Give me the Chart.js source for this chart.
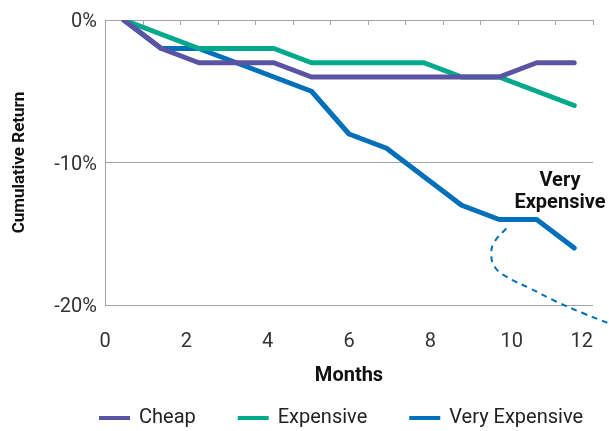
<!DOCTYPE html>
<html>
<head>
<meta charset="utf-8">
<title>Cumulative Return by Valuation</title>
<script src="https://cdn.jsdelivr.net/npm/chart.js@4/dist/chart.umd.min.js"></script>
<style>
  html, body { margin: 0; padding: 0; background: #ffffff; }
  #wrap { width: 609px; height: 431px; }
</style>
</head>
<body>
<div id="wrap"><canvas id="chart" width="609" height="431"></canvas></div>
<script>
// ---- data -------------------------------------------------------------
const months        = [0, 1, 2, 3, 4, 5, 6, 7, 8, 9, 10, 11, 12];
const cheap         = [0, -2, -3, -3, -3, -4, -4, -4, -4, -4, -4, -3, -3];
const expensive     = [0, -1, -2, -2, -2, -3, -3, -3, -3, -4, -4, -5, -6];
const veryExpensive = [0, -2, -2, -3, -4, -5, -8, -9, -11, -13, -14, -14, -16];
const seriesNames   = ['Cheap', 'Expensive', 'Very Expensive'];
const monthTicks    = [0, 2, 4, 6, 8, 10, 12];
const returnTicks   = [0, -10, -20];
const calloutLines  = ['Very', 'Expensive'];
// dashed arc that wraps under the end of the Very Expensive line
const calloutArc = [
  { x: 10.19, y: -14.62 }, { x: 9.88, y: -15.56 }, { x: 9.79, y: -16.37 },
  { x: 9.88, y: -17.31 }, { x: 10.19, y: -18.01 }, { x: 10.82, y: -18.83 },
  { x: 11.53, y: -19.77 }, { x: 12.24, y: -20.58 }, { x: 12.92, y: -21.29 }
];

// ---- style ------------------------------------------------------------
const COLORS = ['#5b53a4', '#00a98c', '#0070ba'];
const GRID = '#a3a3a3';
const FONT = 'Roboto, "Liberation Sans", sans-serif';
const calloutAt = { x: 11.62, y: -11.3 };

// small tick marks hanging from the 0% line, one per month slot
const topTicks = {
  id: 'topTicks',
  afterDatasetsDraw(chart) {
    const { ctx, chartArea } = chart;
    const x = chart.scales.x;
    ctx.save();
    ctx.strokeStyle = GRID;
    ctx.lineWidth = 1;
    for (let n = 0; n <= months.length; n++) {
      const px = Math.round(x.getPixelForValue(months[0] + n - 0.5)) + 0.5;
      ctx.beginPath();
      ctx.moveTo(px, chartArea.top);
      ctx.lineTo(px, chartArea.top + 5);
      ctx.stroke();
    }
    ctx.restore();
  }
};

// month labels along the bottom, kept inside the plot's right edge
const monthLabels = {
  id: 'monthLabels',
  afterDraw(chart) {
    const { ctx, chartArea } = chart;
    const s = chart.scales.x2;
    ctx.save();
    ctx.font = '20px ' + FONT;
    ctx.fillStyle = '#333333';
    ctx.textAlign = 'center';
    ctx.textBaseline = 'middle';
    monthTicks.forEach(v => {
      const label = String(v);
      const w = ctx.measureText(label).width;
      let px = s.getPixelForValue(v);
      if (px + w / 2 > chartArea.right) px = chartArea.right - w / 2;
      ctx.fillText(label, px, s.top + 37);
    });
    ctx.restore();
  }
};

// "Very Expensive" callout text
const callout = {
  id: 'callout',
  afterDraw(chart) {
    const { ctx } = chart;
    const px = chart.scales.x.getPixelForValue(calloutAt.x);
    const py = chart.scales.y.getPixelForValue(calloutAt.y);
    ctx.save();
    ctx.font = 'bold 20px ' + FONT;
    ctx.fillStyle = '#111111';
    ctx.textAlign = 'center';
    ctx.textBaseline = 'middle';
    calloutLines.forEach((t, i) => ctx.fillText(t, px, py + i * 22));
    ctx.restore();
  }
};

// single-row legend under the axis title: colour bar + series name
const seriesLegend = {
  id: 'seriesLegend',
  afterDraw(chart) {
    const { ctx, chartArea } = chart;
    const swatch = 31, textGap = 9, itemGap = 42;
    const items = chart.data.datasets.slice(0, seriesNames.length);
    ctx.save();
    ctx.font = '20px ' + FONT;
    ctx.textAlign = 'left';
    ctx.textBaseline = 'middle';
    const widths = items.map(ds => swatch + textGap + ctx.measureText(ds.label).width);
    const total = widths.reduce((a, b) => a + b, 0) + itemGap * (items.length - 1);
    const center = (chartArea.left + chartArea.right) / 2 - 8;
    const y = chartArea.bottom + 113;
    let x = Math.round(center - total / 2);
    items.forEach((ds, i) => {
      ctx.fillStyle = ds.borderColor;
      ctx.fillRect(x, y - 2, swatch, 4);
      ctx.fillStyle = '#222222';
      ctx.fillText(ds.label, x + swatch + textGap, y);
      x += widths[i] + itemGap;
    });
    ctx.restore();
  }
};

const lineStyle = (i) => ({
  borderColor: COLORS[i],
  backgroundColor: COLORS[i],
  borderWidth: 5,
  pointRadius: 0,
  pointHoverRadius: 0,
  tension: 0,
  borderCapStyle: 'round',
  borderJoinStyle: 'round',
  fill: false
});

new Chart(document.getElementById('chart'), {
  type: 'line',
  data: {
    labels: months,
    datasets: [
      { label: seriesNames[0], data: cheap, ...lineStyle(0) },
      { label: seriesNames[1], data: expensive, ...lineStyle(1) },
      { label: seriesNames[2], data: veryExpensive, ...lineStyle(2) },
      {
        label: 'arc',
        data: calloutArc,
        borderColor: COLORS[2],
        borderWidth: 2,
        borderDash: [6, 5],
        pointRadius: 0,
        tension: 0.45,
        fill: false,
        clip: false
      }
    ]
  },
  options: {
    responsive: false,
    animation: false,
    devicePixelRatio: 1,
    layout: { padding: { top: 20, right: 16, bottom: 0, left: 0 } },
    plugins: {
      tooltip: { enabled: false },
      legend: { display: false }
    },
    scales: {
      x: {
        type: 'linear',
        min: months[0] - 0.5,
        max: months[months.length - 1] + 0.5,
        display: false
      },
      x2: {
        type: 'linear',
        position: 'bottom',
        min: monthTicks[0],
        max: monthTicks[monthTicks.length - 1],
        grid: { display: false },
        border: { display: false },
        ticks: { display: false },
        title: {
          display: true,
          text: 'Months',
          color: '#111111',
          font: { family: FONT, size: 20, weight: 'bold' },
          padding: { top: 0, bottom: 43 }
        },
        afterFit(scale) { scale.height = 126; }
      },
      y: {
        type: 'linear',
        min: returnTicks[returnTicks.length - 1],
        max: returnTicks[0],
        afterBuildTicks(scale) { scale.ticks = returnTicks.map(v => ({ value: v })); },
        ticks: {
          callback: (v) => v + '%',
          font: { family: FONT, size: 20 },
          color: '#333333',
          padding: 8,
          labelOffset: 2
        },
        grid: { color: GRID, lineWidth: 1, drawTicks: false },
        border: { display: true, color: GRID, width: 1 },
        title: {
          display: true,
          text: 'Cumulative Return',
          color: '#111111',
          font: { family: FONT, size: 17, weight: 'bold' },
          padding: { top: 10, bottom: 0 }
        },
        afterFit(scale) { scale.width = 105; }
      }
    }
  },
  plugins: [topTicks, monthLabels, callout, seriesLegend]
});
</script>
</body>
</html>
